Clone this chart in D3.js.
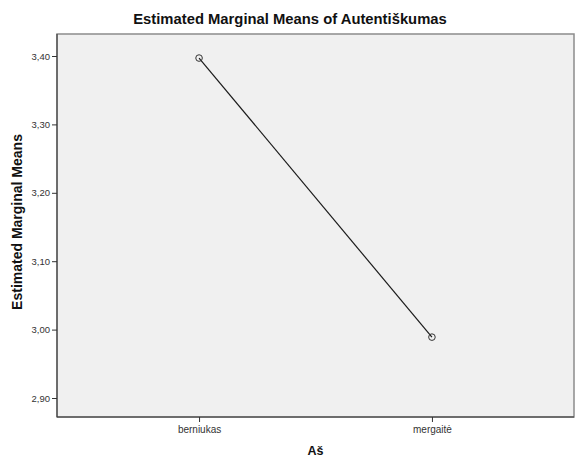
<!DOCTYPE html>
<html><head><meta charset="utf-8">
<script src="https://cdn.jsdelivr.net/npm/d3@7"></script>
<style>body{margin:0;background:#fff}svg{display:block}</style>
</head><body>
<svg id="c" width="581" height="462"></svg>
<script>
const categories = ["berniukas", "mergaitė"];
const means = [3.397, 2.989];
const yTicks = [2.90, 3.00, 3.10, 3.20, 3.30, 3.40];

const svg = d3.select("#c");
const L = 57, R = 574, T = 34, B = 417;
const font = "Liberation Sans, Arial, sans-serif";

const x = d3.scalePoint().domain(categories).range([L, R]).padding(0.61);
const y = d3.scaleLinear().domain([2.90, 3.40]).range([398, 56]);

svg.append("rect").attr("x", L).attr("y", T).attr("width", R - L).attr("height", B - T)
  .attr("fill", "#f0f0f0").attr("stroke", "#8c8c8c").attr("stroke-width", 1.5);

const fmt = d => d3.format(".2f")(d).replace(".", ",");
const ya = svg.append("g").attr("transform", `translate(${L},0)`)
  .call(d3.axisLeft(y).tickValues(yTicks).tickFormat(fmt).tickSize(5).tickPadding(2));
ya.select(".domain").attr("d", `M0,${T}V${B}`).attr("stroke", "#333");
ya.selectAll(".tick line").attr("stroke", "#333");
ya.selectAll("text").attr("font-family", font).attr("font-size", 9.5).attr("fill", "#333");

const xa = svg.append("g").attr("transform", `translate(0,${B})`)
  .call(d3.axisBottom(x).tickSize(5).tickPadding(4));
xa.select(".domain").attr("d", `M${L},0H${R}`).attr("stroke", "#333");
xa.selectAll(".tick line").attr("stroke", "#333");
xa.selectAll("text").attr("font-family", font).attr("font-size", 10).attr("fill", "#333");

const pts = categories.map((c, i) => [x(c), y(means[i])]);
svg.append("path").attr("d", d3.line()(pts)).attr("fill", "none")
  .attr("stroke", "#1a1a1a").attr("stroke-width", 1.2);
svg.selectAll("circle.m").data(pts).join("circle").attr("class", "m")
  .attr("cx", d => d[0]).attr("cy", d => d[1]).attr("r", 3.3)
  .attr("fill", "none").attr("stroke", "#333").attr("stroke-width", 1);

svg.append("text").attr("x", 290).attr("y", 24).attr("text-anchor", "middle")
  .attr("font-family", font).attr("font-weight", "bold").attr("font-size", 14.8).attr("fill", "#111")
  .text("Estimated Marginal Means of Autentiškumas");
svg.append("text").attr("x", (L + R) / 2).attr("y", 455).attr("text-anchor", "middle")
  .attr("font-family", font).attr("font-weight", "bold").attr("font-size", 12.5).attr("fill", "#111")
  .text("Aš");
svg.append("text").attr("transform", `translate(22,222) rotate(-90)`).attr("text-anchor", "middle")
  .attr("font-family", font).attr("font-weight", "bold").attr("font-size", 14).attr("fill", "#111")
  .text("Estimated Marginal Means");
</script>
</body></html>
